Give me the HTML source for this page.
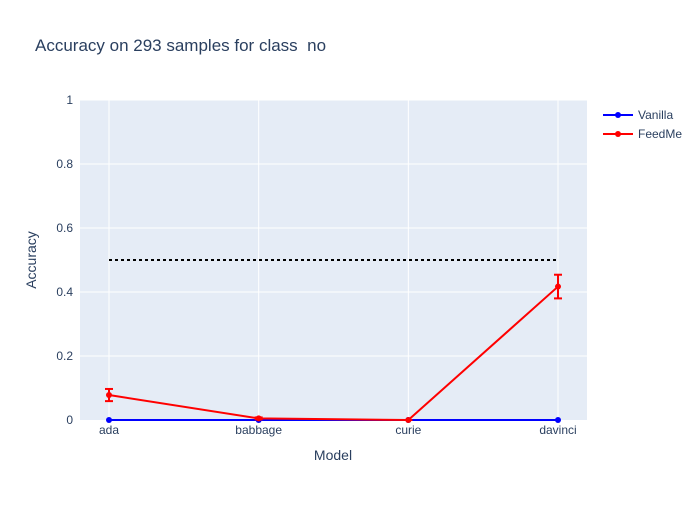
<!DOCTYPE html>
<html><head><meta charset="utf-8"><style>
body{margin:0;background:#fff;font-family:"Liberation Sans",Arial,sans-serif}
svg text{font-family:"Liberation Sans",Arial,sans-serif}
</style></head><body>
<svg id="chart" width="700" height="500">
<rect x="0" y="0" width="700" height="500" fill="#fff"/>
<text x="35" y="51" font-size="17" fill="#2a3f5f" style="white-space:pre">Accuracy on 293 samples for class &#160;no</text>
<rect x="80" y="100" width="507" height="320" fill="#e5ecf6"/>
<g id="grid"></g><g id="marks"></g><g id="axes"></g>
<text x="333" y="460" font-size="14" fill="#2a3f5f" text-anchor="middle">Model</text>
<text transform="translate(36,260) rotate(-90)" font-size="14" fill="#2a3f5f" text-anchor="middle">Accuracy</text>
<g>
<g><line x1="603" y1="115" x2="633" y2="115" stroke="#0000ff" stroke-width="2"/><circle cx="618" cy="115" r="3" fill="#0000ff"/><text x="638" y="119" font-size="12" fill="#2a3f5f">Vanilla</text></g>
<g><line x1="603" y1="134" x2="633" y2="134" stroke="#ff0000" stroke-width="2"/><circle cx="618" cy="134" r="3" fill="#ff0000"/><text x="638" y="138" font-size="12" fill="#2a3f5f">FeedMe</text></g>
</g>
</svg>
<script>
const categories=["ada","babbage","curie","davinci"];
const vanilla=[0,0,0,0];
const feedme=[0.078,0.005,0,0.417];
const feedmeErr=[0.019,0.003,0,0.037];
const baseline=0.5;
const yTicks=[0,0.2,0.4,0.6,0.8,1];
const yTickLabels=["0","0.2","0.4","0.6","0.8","1"];
const NS="http://www.w3.org/2000/svg";
const X=i=>109+i*149.67, Y=v=>420-v*320;
function mk(p,t,a){const e=document.createElementNS(NS,t);for(const k in a)e.setAttribute(k,a[k]);p.appendChild(e);return e;}
const grid=document.getElementById('grid'),marks=document.getElementById('marks'),axes=document.getElementById('axes');
yTicks.forEach((t,i)=>{
 if(t>0){const l=mk(grid,'line',{x1:80,x2:587,y1:Y(t),y2:Y(t),stroke:'#fff','stroke-width':1});
 
 }
 const tx=mk(axes,'text',{x:73,y:Y(t)+4,'font-size':12,fill:'#2a3f5f','text-anchor':'end'});tx.textContent=yTickLabels[i];
 
 
});
categories.forEach((c,i)=>{
 const l=mk(grid,'line',{x1:X(i),x2:X(i),y1:100,y2:420,stroke:'#fff','stroke-width':1});
 
 
 const tx=mk(axes,'text',{x:X(i),y:434,'font-size':12,fill:'#2a3f5f','text-anchor':'middle'});tx.textContent=c;
 
 
});
const bl=mk(marks,'line',{x1:X(0),x2:X(categories.length-1),y1:Y(baseline),y2:Y(baseline),stroke:'#000','stroke-width':2,'stroke-dasharray':'3,3'});


const vl=mk(marks,'polyline',{points:vanilla.map((v,i)=>X(i)+','+Y(v)).join(' '),fill:'none',stroke:'#0000ff','stroke-width':2});


vanilla.forEach((v,i)=>{const c=mk(marks,'circle',{cx:X(i),cy:Y(v),r:3,fill:'#0000ff'});
 
 });
const fl=mk(marks,'polyline',{points:feedme.map((v,i)=>X(i)+','+Y(v)).join(' '),fill:'none',stroke:'#ff0000','stroke-width':2});


feedme.forEach((v,i)=>{
 const e=feedmeErr[i],g=mk(marks,'g',{stroke:'#ff0000','stroke-width':2});
 
 
 mk(g,'line',{x1:X(i),x2:X(i),y1:Y(v-e),y2:Y(v+e)});
 mk(g,'line',{x1:X(i)-4,x2:X(i)+4,y1:Y(v-e),y2:Y(v-e)});
 mk(g,'line',{x1:X(i)-4,x2:X(i)+4,y1:Y(v+e),y2:Y(v+e)});
 const c=mk(marks,'circle',{cx:X(i),cy:Y(v),r:3,fill:'#ff0000'});
 
 
});
</script>
</body></html>
